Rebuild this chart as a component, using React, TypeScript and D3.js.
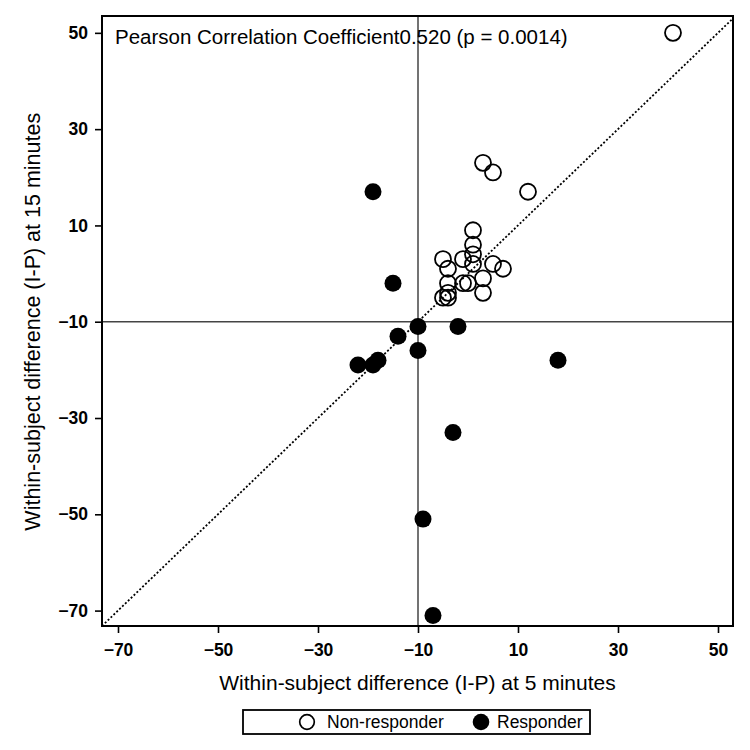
import React, { useEffect, useRef } from "react";
import * as d3 from "d3";

// Non-responders (open circles)
const nonResponderX = [41, 3, 5, 12, 1, 1, 1, -5, -1, 1, -4, 5, 7, 3, -4, -1, 0, 3, -4, -5, -4];
const nonResponderY = [50, 23, 21, 17, 9, 6, 4, 3, 3, 2, 1, 2, 1, -1, -2, -2, -2, -4, -4, -5, -5];

// Responders (filled circles)
const responderX = [-19, -15, -10, -2, -14, -10, -22, -19, -18, 18, -3, -9, -7];
const responderY = [17, -2, -11, -11, -13, -16, -19, -19, -18, -18, -33, -51, -71];

const tickValues = [-70, -50, -30, -10, 10, 30, 50];
const xDomain: [number, number] = [-73.2, 53];
const yDomain: [number, number] = [-73.2, 53.5];
const refValue = -10;

const titleText = "Pearson Correlation Coefficient0.520 (p = 0.0014)";
const xLabel = "Within-subject difference (I-P) at 5 minutes";
const yLabel = "Within-subject difference (I-P) at 15 minutes";

const FONT = "'Liberation Sans', Arial, sans-serif";

export default function App() {
  const ref = useRef<SVGSVGElement | null>(null);

  useEffect(() => {
    if (!ref.current) return;
    const width = 750;
    const height = 750;
    const margin = { top: 16, right: 17, bottom: 124, left: 102 };
    const innerW = width - margin.left - margin.right;
    const innerH = height - margin.top - margin.bottom;

    const svg = d3.select(ref.current);
    svg.selectAll("*").remove();

    const g = svg
      .append("g")
      .attr("transform", `translate(${margin.left},${margin.top})`);

    const x = d3.scaleLinear().domain(xDomain).range([0, innerW]);
    const y = d3.scaleLinear().domain(yDomain).range([innerH, 0]);

    // reference lines
    g.append("line")
      .attr("x1", x(refValue))
      .attr("x2", x(refValue))
      .attr("y1", 0)
      .attr("y2", innerH)
      .attr("stroke", "#444")
      .attr("stroke-width", 1.5);
    g.append("line")
      .attr("x1", 0)
      .attr("x2", innerW)
      .attr("y1", y(refValue))
      .attr("y2", y(refValue))
      .attr("stroke", "#444")
      .attr("stroke-width", 1.5);

    // identity line y = x
    const lo = Math.max(xDomain[0], yDomain[0]);
    const hi = Math.min(xDomain[1], yDomain[1]);
    g.append("line")
      .attr("x1", x(lo))
      .attr("y1", y(lo))
      .attr("x2", x(hi))
      .attr("y2", y(hi))
      .attr("stroke", "#000")
      .attr("stroke-width", 1.8)
      .attr("stroke-dasharray", "2,2");

    // points
    nonResponderX.forEach((v, i) => {
      g.append("circle")
        .attr("cx", x(v))
        .attr("cy", y(nonResponderY[i]))
        .attr("r", 8)
        .attr("fill", "none")
        .attr("stroke", "#000")
        .attr("stroke-width", 1.8);
    });
    responderX.forEach((v, i) => {
      g.append("circle")
        .attr("cx", x(v))
        .attr("cy", y(responderY[i]))
        .attr("r", 8.5)
        .attr("fill", "#000");
    });

    // axes
    const xAxis = g
      .append("g")
      .attr("transform", `translate(0,${innerH})`)
      .call(d3.axisBottom(x).tickValues(tickValues).tickSizeOuter(0).tickSize(7).tickPadding(11));
    const yAxis = g
      .append("g")
      .call(d3.axisLeft(y).tickValues(tickValues).tickSizeOuter(0).tickSize(7).tickPadding(7));
    [xAxis, yAxis].forEach((ax) => {
      ax.select(".domain").remove();
      ax.selectAll("line").attr("stroke", "#000").attr("stroke-width", 1.6);
      ax.selectAll("text")
        .attr("fill", "#000")
        .style("font-family", FONT)
        .style("font-size", "17.5px")
        .style("font-weight", "bold");
    });

    // frame
    g.append("rect")
      .attr("width", innerW)
      .attr("height", innerH)
      .attr("fill", "none")
      .attr("stroke", "#000")
      .attr("stroke-width", 2);

    g.append("text")
      .attr("x", 13)
      .attr("y", 28)
      .style("font-family", FONT)
      .style("font-size", "20.5px")
      .text(titleText);

    svg
      .append("text")
      .attr("x", margin.left + innerW / 2)
      .attr("y", 690)
      .attr("text-anchor", "middle")
      .style("font-family", FONT)
      .style("font-size", "21px")
      .text(xLabel);

    svg
      .append("text")
      .attr("transform", `translate(40,${margin.top + y(refValue)}) rotate(-90)`)
      .attr("text-anchor", "middle")
      .style("font-family", FONT)
      .style("font-size", "21.5px")
      .text(yLabel);

    // legend
    const lg = svg.append("g").attr("transform", "translate(243,710)");
    lg.append("rect")
      .attr("width", 347)
      .attr("height", 24)
      .attr("fill", "#fff")
      .attr("stroke", "#000")
      .attr("stroke-width", 1.8);
    lg.append("circle")
      .attr("cx", 64)
      .attr("cy", 12)
      .attr("r", 7.3)
      .attr("fill", "none")
      .attr("stroke", "#000")
      .attr("stroke-width", 1.7);
    lg.append("text")
      .attr("x", 84)
      .attr("y", 18)
      .style("font-family", FONT)
      .style("font-size", "17.5px")
      .text("Non-responder");
    lg.append("circle")
      .attr("cx", 238)
      .attr("cy", 12)
      .attr("r", 8.3)
      .attr("fill", "#000");
    lg.append("text")
      .attr("x", 254)
      .attr("y", 18)
      .style("font-family", FONT)
      .style("font-size", "17.5px")
      .text("Responder");
  }, []);

  return (
    <svg
      ref={ref}
      width={750}
      height={750}
      style={{ position: "absolute", left: 0, top: 0, background: "#fff" }}
    />
  );
}
